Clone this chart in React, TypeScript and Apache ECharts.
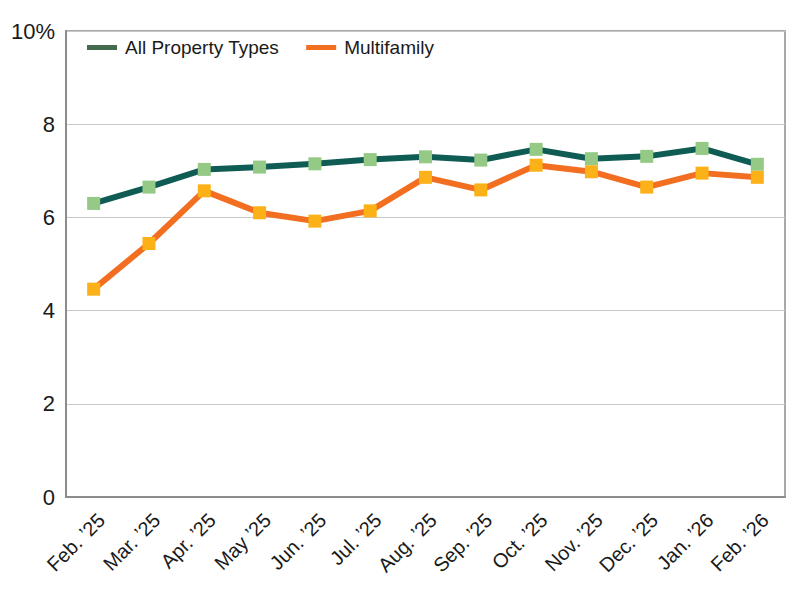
import React, { useEffect, useRef } from "react";
import * as echarts from "echarts";

const months = [
  "Feb. ’25", "Mar. ’25", "Apr. ’25", "May ’25", "Jun. ’25", "Jul. ’25", "Aug. ’25",
  "Sep. ’25", "Oct. ’25", "Nov. ’25", "Dec. ’25", "Jan. ’26", "Feb. ’26",
];
const allPropertyTypes = [6.3, 6.65, 7.03, 7.08, 7.15, 7.24, 7.3, 7.23, 7.46, 7.26, 7.31, 7.48, 7.14];
const multifamily = [4.46, 5.44, 6.57, 6.1, 5.92, 6.14, 6.86, 6.59, 7.12, 6.98, 6.65, 6.95, 6.86];
const yTicks = [0, 2, 4, 6, 8, 10];

const FONT = "'Liberation Sans', Arial, Helvetica, sans-serif";

export default function App() {
  const ref = useRef<HTMLDivElement>(null);

  useEffect(() => {
    if (!ref.current) return;
    const chart = echarts.init(ref.current, undefined, { renderer: "svg" });
    chart.setOption({
      animation: false,
      backgroundColor: "#ffffff",
      textStyle: { fontFamily: FONT },
      grid: {
        left: 66,
        right: 15,
        top: 31,
        bottom: 103,
        show: true,
        borderColor: "#8c8c8c",
        borderWidth: 1.5,
      },
      legend: {
        left: 87,
        top: 38,
        padding: 0,
        icon: "rect",
        itemWidth: 30,
        itemHeight: 5,
        itemGap: 27,
        textStyle: { fontFamily: FONT, fontSize: 19, color: "#1a1a1a", padding: [0, 0, 0, 3] },
        data: [
          { name: "All Property Types", itemStyle: { color: "#456b4e" } },
          { name: "Multifamily", itemStyle: { color: "#f26f21" } },
        ],
      },
      xAxis: {
        type: "category",
        data: months,
        boundaryGap: true,
        axisLine: { lineStyle: { color: "#8c8c8c", width: 2 } },
        axisTick: { inside: true, length: 9, lineStyle: { color: "#555", width: 1 } },
        axisLabel: {
          rotate: 45,
          fontSize: 20,
          color: "#1a1a1a",
          fontFamily: FONT,
          margin: 12,
          interval: 0,
          verticalAlign: "top",
          padding: [1, 0, 0, 0],
        },
      },
      yAxis: {
        type: "value",
        min: yTicks[0],
        max: yTicks[yTicks.length - 1],
        interval: 2,
        axisLine: { show: true, lineStyle: { color: "#8c8c8c", width: 2 } },
        axisTick: { show: false },
        axisLabel: {
          fontSize: 22,
          color: "#1a1a1a",
          fontFamily: FONT,
          margin: 11,
          formatter: (v: number) => (v === 10 ? "10%" : String(v)),
        },
        splitLine: { lineStyle: { color: "#c8c8c8", width: 1 } },
      },
      series: [
        {
          name: "All Property Types",
          type: "line",
          data: allPropertyTypes,
          symbol: "rect",
          symbolSize: 13,
          lineStyle: { color: "#0f5c55", width: 6 },
          itemStyle: { color: "#94c986" },
          z: 2,
        },
        {
          name: "Multifamily",
          type: "line",
          data: multifamily,
          symbol: "rect",
          symbolSize: 13,
          lineStyle: { color: "#f26f21", width: 6 },
          itemStyle: { color: "#fbb117" },
          z: 3,
        },
      ],
    });
    return () => chart.dispose();
  }, []);

  return (
    <div
      ref={ref}
      style={{ position: "fixed", left: 0, top: 0, width: 800, height: 600 }}
    />
  );
}
